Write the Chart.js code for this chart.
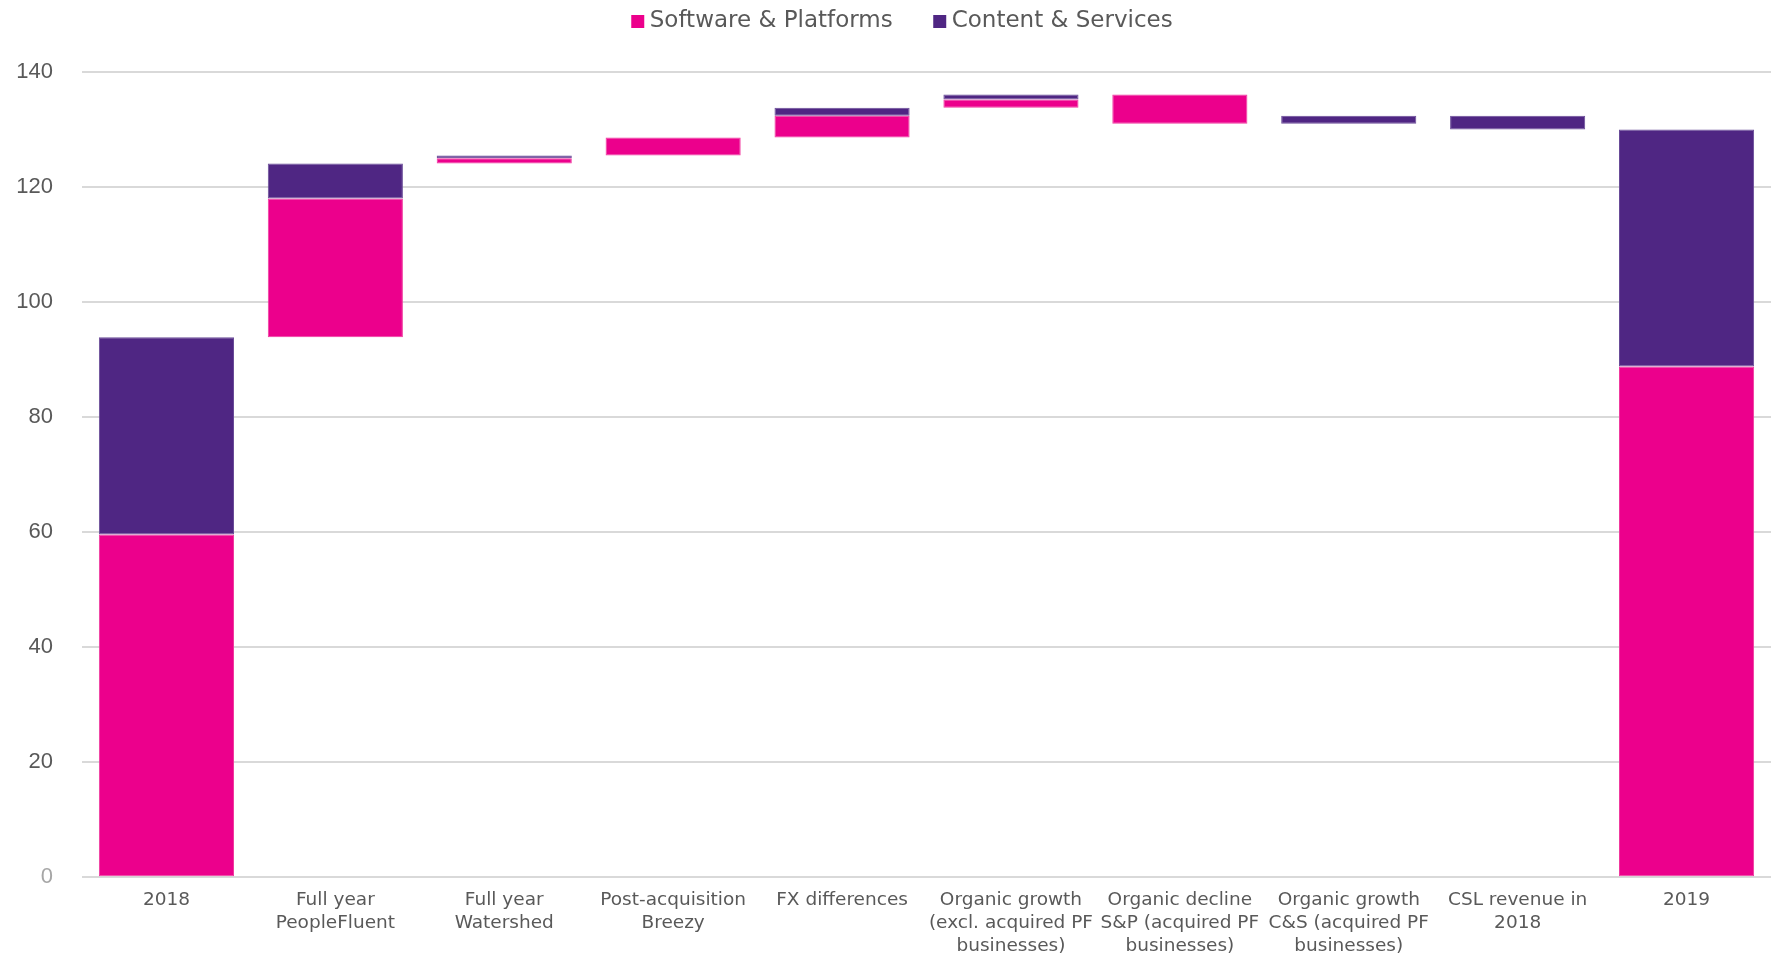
<!DOCTYPE html>
<html>
<head>
<meta charset="utf-8">
<script src="https://cdn.jsdelivr.net/npm/chart.js@4.4.1/dist/chart.umd.min.js"></script>
<style>
  html, body { margin: 0; padding: 0; background: #ffffff; }
  #wrap { position: relative; width: 1771px; height: 960px; }
</style>
</head>
<body>
<div id="wrap"><canvas id="c"></canvas></div>
<script>
// ---- Data ----
const categories = [
  "2018",
  ["Full year", "PeopleFluent"],
  ["Full year", "Watershed"],
  ["Post-acquisition", "Breezy"],
  "FX differences",
  ["Organic growth", "(excl. acquired PF", "businesses)"],
  ["Organic decline", "S&P (acquired PF", "businesses)"],
  ["Organic growth", "C&S (acquired PF", "businesses)"],
  ["CSL revenue in", "2018"],
  "2019"
];
const seriesNames = ["Software & Platforms", "Content & Services"];
const yTickValues = [0, 20, 40, 60, 80, 100, 120, 140];

// Floating bar ranges (bottom, top) per category
const softwareLow  = [0,    93.9,  124.1, 125.5, 128.6, 133.8, 131.0, null,  null,  0];
const softwareHigh = [59.6, 118.0, 125.0, 128.6, 132.4, 135.2, 136.1, null,  null,  88.8];
const contentLow   = [59.6, 118.0, 125.0, null,  132.4, 135.2, null,  131.0, 130.0, 88.8];
const contentHigh  = [93.9, 124.1, 125.5, null,  133.8, 136.1, null,  132.4, 132.4, 130.0];

const pair = (lo, hi) => lo.map((v, i) => (v === null || hi[i] === null) ? null : [v, hi[i]]);

const PINK = "#EC008C";
const PURPLE = "#4F2683";
const TICKFONT = "'Liberation Sans', Arial, sans-serif";
const LABELFONT = "'DejaVu Sans', 'Liberation Sans', sans-serif";

const legendTweak = {
  id: "legendTweak",
  beforeInit(chart) {
    const lg = chart.legend;
    if (!lg) return;
    const orig = lg.fit;
    lg.fit = function () {
      orig.call(this);
      this.height += 29;
    };
  },
  afterLayout(chart) {
    const lg = chart.legend;
    if (!lg) return;
    lg.left += 12;
    lg.right += 12;
  }
};

new Chart(document.getElementById("c"), {
  type: "bar",
  data: {
    labels: categories,
    datasets: [
      {
        label: seriesNames[0],
        data: pair(softwareLow, softwareHigh),
        backgroundColor: PINK,
        borderColor: "#F03A9F",
        borderWidth: 1,
        borderSkipped: false,
        grouped: false,
        categoryPercentage: 0.8,
        barPercentage: 1.0
      },
      {
        label: seriesNames[1],
        data: pair(contentLow, contentHigh),
        backgroundColor: PURPLE,
        borderColor: "#6A4C98",
        borderWidth: 1,
        borderSkipped: false,
        grouped: false,
        categoryPercentage: 0.8,
        barPercentage: 1.0
      }
    ]
  },
  options: {
    responsive: true,
    maintainAspectRatio: false,
    animation: false,
    layout: { padding: { left: 15, right: 0, top: 0, bottom: 2 } },
    plugins: {
      legend: {
        position: "top",
        align: "center",
        labels: {
          color: "#595959",
          font: { family: LABELFONT, size: 23 },
          usePointStyle: true,
          pointStyle: "rect",
          boxWidth: 1,
          boxHeight: 13,
          padding: 10,
          generateLabels(chart) {
            const items = Chart.defaults.plugins.legend.labels.generateLabels(chart);
            items.forEach((it, i) => {
              it.lineWidth = 0;
              it.strokeStyle = "rgba(0,0,0,0)";
              it.pointStyle = "rect";
              if (i === 0) it.text = it.text + "     ";
            });
            return items;
          }
        }
      },
      tooltip: { enabled: false }
    },
    scales: {
      x: {
        grid: { display: false, drawTicks: false },
        border: { display: false },
        afterFit(scale) { scale.height -= 12; },
        ticks: {
          color: "#595959",
          font: { family: LABELFONT, size: 18.5, lineHeight: 1.24 },
          padding: 12,
          maxRotation: 0,
          minRotation: 0,
          autoSkip: false
        }
      },
      y: {
        min: 0,
        max: 140,
        afterBuildTicks(scale) { scale.ticks = yTickValues.map(v => ({ value: v })); },
        afterFit(scale) { scale.width = 67; },
        grid: { color: "#d9d9d9", lineWidth: 2, drawTicks: false },
        border: { display: false },
        ticks: {
          color: (ctx) => ctx.tick && ctx.tick.value === 0 ? "#a6a6a6" : "#595959",
          font: { family: TICKFONT, size: 22 },
          padding: 29
        }
      }
    }
  },
  plugins: [legendTweak]
});
</script>
</body>
</html>
